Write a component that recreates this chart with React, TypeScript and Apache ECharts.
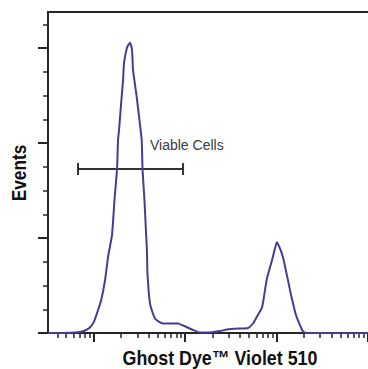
import React, { useEffect, useRef } from "react";
import * as echarts from "echarts";

// x values are log10 of fluorescence intensity (decades)
const curveX = [
  1.5, 1.631, 1.795, 1.85, 1.905, 1.959, 2.003, 2.035, 2.08, 2.123, 2.16, 2.2, 2.227, 2.255, 2.266, 2.277,
  2.3, 2.321, 2.332, 2.364, 2.397, 2.419, 2.43, 2.47, 2.504, 2.525, 2.534, 2.555, 2.571, 2.582, 2.588,
  2.616, 2.671, 2.758, 2.867, 2.922, 2.977, 3.075, 3.162, 3.272, 3.381, 3.458, 3.6, 3.688, 3.742, 3.786,
  3.841, 3.868, 3.895, 3.95, 3.977, 4.004, 4.037, 4.07, 4.097, 4.125, 4.152, 4.18, 4.207, 4.234, 4.262,
  4.289, 4.322, 5.0,
];
const curveY = [
  0, 0, 0.5, 1, 2.6, 5.8, 12, 20.6, 34, 55, 82, 103, 140, 172.6, 203, 214,
  242, 266.6, 284.6, 300.4, 305.7, 298, 277, 248.7, 221, 203, 172.6, 140, 108, 87, 62.8,
  31, 15.3, 10, 10, 10, 7.9, 3.7, 0.5, 0.5, 2, 3.7, 4.8, 5.3, 10, 17.4,
  27, 41.7, 57.5, 76.6, 87, 95.6, 89, 79.7, 68, 55.4, 42.8, 31, 20.6, 13.2, 6.9,
  1.6, 0, 0,
];

const xMin = 1.5;
const xMax = 5.0;
const yMax = 338;
const majorDecades = [2, 3, 4, 5];
const minorDecadeStarts = [1, 2, 3, 4];
const minorMultipliers = [2, 3, 4, 5, 6, 7, 8, 9];
const yMajorTicks = [0, 100, 200, 300];
const yMinorTicks = [25, 50, 75, 125, 150, 175, 225, 250, 275, 325];

const gateStart = 1.828;
const gateEnd = 2.977;
const gateLevel = 172.6;
const gateLabel = "Viable Cells";

const xTitle = "Ghost Dye™ Violet 510";
const yTitle = "Events";

const AXIS_COLOR = "#262626";
const LINE_COLOR = "#4b3a94";
const TITLE_FONT = '"Liberation Sans", Arial, sans-serif';

export default function App() {
  const ref = useRef<HTMLDivElement>(null);

  useEffect(() => {
    if (!ref.current) return;
    const chart = echarts.init(ref.current, undefined, { renderer: "svg" });

    const xMinorTicks: number[] = [];
    minorDecadeStarts.forEach((d) =>
      minorMultipliers.forEach((m) => {
        const v = d + Math.log10(m);
        if (v >= xMin && v <= xMax) xMinorTicks.push(v);
      })
    );

    const baseX = {
      type: "value" as const,
      min: xMin,
      max: xMax,
      axisLabel: { show: false },
      splitLine: { show: false },
    };
    const baseY = {
      type: "value" as const,
      min: 0,
      max: yMax,
      axisLabel: { show: false },
      splitLine: { show: false },
    };

    chart.setOption({
      animation: false,
      backgroundColor: "#ffffff",
      grid: { left: 48, right: 0, top: 12, bottom: 36 },
      xAxis: [
        {
          ...baseX,
          position: "bottom",
          axisLine: { show: true, lineStyle: { color: AXIS_COLOR, width: 2 } },
          axisTick: {
            show: true,
            customValues: majorDecades,
            length: 9,
            lineStyle: { color: AXIS_COLOR, width: 2 },
          },
        },
        {
          ...baseX,
          position: "bottom",
          axisLine: { show: false },
          axisTick: {
            show: true,
            customValues: xMinorTicks,
            length: 5,
            lineStyle: { color: AXIS_COLOR, width: 1.5 },
          },
        },
        {
          ...baseX,
          position: "top",
          axisLine: { show: true, lineStyle: { color: AXIS_COLOR, width: 2 } },
          axisTick: { show: false },
        },
      ],
      yAxis: [
        {
          ...baseY,
          position: "left",
          axisLine: { show: true, lineStyle: { color: AXIS_COLOR, width: 2 } },
          axisTick: {
            show: true,
            customValues: yMajorTicks,
            length: 10,
            lineStyle: { color: AXIS_COLOR, width: 2 },
          },
        },
        {
          ...baseY,
          position: "left",
          axisLine: { show: false },
          axisTick: {
            show: true,
            customValues: yMinorTicks,
            length: 5,
            lineStyle: { color: AXIS_COLOR, width: 1.5 },
          },
        },
      ],
      series: [
        {
          type: "line",
          xAxisIndex: 0,
          yAxisIndex: 0,
          data: curveX.map((x, i) => [x, curveY[i]]),
          showSymbol: false,
          smooth: 0.2,
          lineStyle: { color: LINE_COLOR, width: 2 },
          silent: true,
        },
        {
          type: "custom",
          xAxisIndex: 0,
          yAxisIndex: 0,
          encode: { x: [0, 1], y: 2 },
          data: [[gateStart, gateEnd, gateLevel]],
          renderItem: (_params: any, api: any) => {
            const p0 = api.coord([api.value(0), api.value(2)]);
            const p1 = api.coord([api.value(1), api.value(2)]);
            const cap = 6;
            const st = { stroke: "#333333", lineWidth: 2 };
            return {
              type: "group",
              children: [
                { type: "line", shape: { x1: p0[0], y1: p0[1], x2: p1[0], y2: p1[1] }, style: st },
                { type: "line", shape: { x1: p0[0], y1: p0[1] - cap, x2: p0[0], y2: p0[1] + cap }, style: st },
                { type: "line", shape: { x1: p1[0], y1: p1[1] - cap, x2: p1[0], y2: p1[1] + cap }, style: st },
                {
                  type: "text",
                  x: p0[0] + 72,
                  y: p0[1] - 24,
                  style: {
                    text: gateLabel,
                    fill: "#3a3a3a",
                    fontSize: 14,
                    fontFamily: '"Liberation Sans", Arial, sans-serif',
                    align: "left",
                    verticalAlign: "middle",
                  },
                },
              ],
            };
          },
        },
      ],
      graphic: [
        {
          type: "text",
          x: 220,
          y: 358.5,
          scaleX: 0.87,
          style: {
            text: xTitle,
            fill: "#111111",
            fontSize: 20.5,
            fontWeight: "bold",
            fontFamily: TITLE_FONT,
            align: "center",
            verticalAlign: "middle",
          },
        },
        {
          type: "text",
          x: 18.5,
          y: 173,
          rotation: Math.PI / 2,
          scaleX: 0.84,
          style: {
            text: yTitle,
            fill: "#111111",
            fontSize: 20.5,
            fontWeight: "bold",
            fontFamily: TITLE_FONT,
            align: "center",
            verticalAlign: "middle",
          },
        },
      ],
    });

    return () => chart.dispose();
  }, []);

  return (
    <div
      ref={ref}
      style={{ position: "fixed", left: 0, top: 0, width: 368, height: 369, background: "#fff" }}
    />
  );
}
